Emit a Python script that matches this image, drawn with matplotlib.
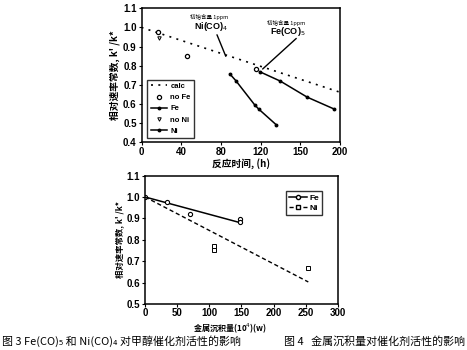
import matplotlib
matplotlib.use("Agg")
import matplotlib.pyplot as plt
from matplotlib.lines import Line2D

plt.rcParams['font.family'] = ['Noto Sans CJK SC', 'DejaVu Sans']

# --- figure 3 data: relative rate constant vs reaction time ---
calc_t = [0, 200]
calc_k = [1.0, 0.66]
nofe_t = [17, 46, 115]
nofe_k = [0.975, 0.848, 0.784]
noni_t = [18]
noni_k = [0.944]
fe_t = [119, 140, 167, 194]
fe_k = [0.768, 0.718, 0.634, 0.572]
ni_t = [89, 95, 114, 118, 136]
ni_k = [0.756, 0.721, 0.594, 0.572, 0.488]
time_ticks = [0, 40, 80, 120, 160, 200]
time_labels = ['0', '40', '80', '120', '150', '200']

# --- figure 4 data: relative rate constant vs metal deposit ---
fe_dep_x = [0, 34, 70, 148, 148]
fe_dep_y = [1.0, 0.977, 0.922, 0.898, 0.882]
ni_dep_x = [107, 107, 254]
ni_dep_y = [0.772, 0.750, 0.668]
fe_fit_x = [0, 148]
fe_fit_y = [1.0, 0.88]
ni_fit_x = [0, 254]
ni_fit_y = [1.0, 0.603]
dep_ticks = [0, 50, 100, 150, 200, 250, 300]

ylabel = "相对速率常数, k' /k*"
tickfont = dict(family='Liberation Sans', weight='bold', size=7)

fig = plt.figure(figsize=(4.67, 3.5), dpi=100)

# ---------------- top chart ----------------
ax1 = fig.add_axes([0.303, 0.595, 0.425, 0.381])
ax1.plot(calc_t, calc_k, color='black', lw=1.2, ls=(0, (1.2, 3.2)), label='calc')
ax1.plot(nofe_t, nofe_k, ls='none', marker='o', ms=3, mfc='white', mec='black',
         mew=0.9, label='no Fe')
ax1.plot(fe_t, fe_k, color='black', lw=1.1, marker='o', ms=1.8, label='Fe')
ax1.plot(noni_t, noni_k, ls='none', marker='v', ms=2.5, mfc='white', mec='black',
         mew=0.7, label='no Ni')
ax1.plot(ni_t, ni_k, color='black', lw=1.1, marker='o', ms=1.8, label='Ni')

ax1.set_xlim(0, 200)
ax1.set_ylim(0.4, 1.1)
ax1.set_xticks(time_ticks)
ax1.set_xticklabels(time_labels, fontdict=tickfont)
ax1.set_yticks([0.4, 0.5, 0.6, 0.7, 0.8, 0.9, 1.0, 1.1])
ax1.set_yticklabels(['0.4', '0.5', '0.6', '0.7', '0.8', '0.9', '1.0', '1.1'], fontdict=tickfont)
ax1.tick_params(direction='out', length=2, width=0.8, pad=1.5)
for s in ax1.spines.values():
    s.set_linewidth(1.1)
ax1.set_xlabel('反应时间, (h)', fontsize=7, fontweight='bold', labelpad=1)
ax1.set_ylabel(ylabel, fontsize=7, fontweight='bold', labelpad=2)

# annotations for initial carbonyl content
ax1.text(68, 1.052, '初始含量 1ppm', fontsize=4, ha='center', va='center')
ax1.text(70, 1.005, 'Ni(CO)$_4$', fontsize=6.5, fontweight='bold', ha='center', va='center',
         family='Liberation Sans')
ax1.annotate('', xy=(86, 0.835), xytext=(75, 0.975),
             arrowprops=dict(arrowstyle='-', color='black', lw=1.0))
ax1.text(146, 1.024, '初始含量 1ppm', fontsize=4, ha='center', va='center')
ax1.text(147, 0.977, 'Fe(CO)$_5$', fontsize=6.5, fontweight='bold', ha='center', va='center',
         family='Liberation Sans')
ax1.annotate('', xy=(120, 0.772), xytext=(158, 0.952),
             arrowprops=dict(arrowstyle='-', color='black', lw=1.0))

leg1 = ax1.legend(loc='lower left', bbox_to_anchor=(0.03, 0.03), fontsize=5.5,
                  frameon=True, fancybox=False, edgecolor='black', handlelength=2.2,
                  handletextpad=0.4, borderpad=0.4, labelspacing=0.5, borderaxespad=0)
leg1.get_frame().set_linewidth(1.0)
for t in leg1.get_texts():
    t.set_family('Liberation Sans')
    t.set_fontweight('bold')

# ---------------- bottom chart ----------------
ax2 = fig.add_axes([0.3105, 0.1314, 0.413, 0.367])
ax2.plot(fe_fit_x, fe_fit_y, color='black', lw=1.1)
ax2.plot(fe_dep_x, fe_dep_y, ls='none', marker='o', ms=3, mfc='white', mec='black', mew=0.8)
ax2.plot(ni_fit_x, ni_fit_y, color='black', lw=1.0, ls=(0, (3, 2)))
ax2.plot(ni_dep_x, ni_dep_y, ls='none', marker='s', ms=2.2, mfc='white', mec='black', mew=0.7)

ax2.set_xlim(0, 300)
ax2.set_ylim(0.5, 1.1)
ax2.set_xticks(dep_ticks)
ax2.set_xticklabels([str(v) for v in dep_ticks], fontdict=tickfont)
ax2.set_yticks([0.5, 0.6, 0.7, 0.8, 0.9, 1.0, 1.1])
ax2.set_yticklabels(['0.5', '0.6', '0.7', '0.8', '0.9', '1.0', '1.1'], fontdict=tickfont)
ax2.tick_params(direction='out', length=2, width=0.8, pad=1.5)
ax2.tick_params(axis='x', pad=1)
for s in ax2.spines.values():
    s.set_linewidth(1.1)
ax2.set_ylabel(ylabel, fontsize=6, fontweight='bold', labelpad=2)
fig.text(230 / 467, 1 - 328 / 350, '金属沉积量(10$^4$)(w)', fontsize=5.8,
         fontweight='bold', ha='center', va='center')

handles = [Line2D([], [], color='black', lw=1.1, marker='o', ms=3, mfc='white', mec='black'),
           Line2D([], [], color='black', lw=1.0, ls=(0, (3, 2)), marker='s', ms=2.2,
                  mfc='white', mec='black')]
leg2 = ax2.legend(handles, ['Fe', 'Ni'], loc='upper left', bbox_to_anchor=(0.73, 0.88),
                  fontsize=6, frameon=True, fancybox=False, edgecolor='black',
                  handlelength=2.2, handletextpad=0.3, borderpad=0.35,
                  labelspacing=0.3, borderaxespad=0)
leg2.get_frame().set_linewidth(1.0)
for t in leg2.get_texts():
    t.set_family('Liberation Sans')
    t.set_fontweight('bold')

# ---------------- captions ----------------
fig.text(2 / 467, 1 - 341 / 350, '图 3 Fe(CO)₅ 和 Ni(CO)₄ 对甲醇催化剂活性的影响',
         fontsize=7.9, ha='left', va='center')
fig.text(465 / 467, 1 - 341 / 350, '图 4   金属沉积量对催化剂活性的影响',
         fontsize=7.9, ha='right', va='center')

fig.savefig('out.png', dpi=100, facecolor='white')
